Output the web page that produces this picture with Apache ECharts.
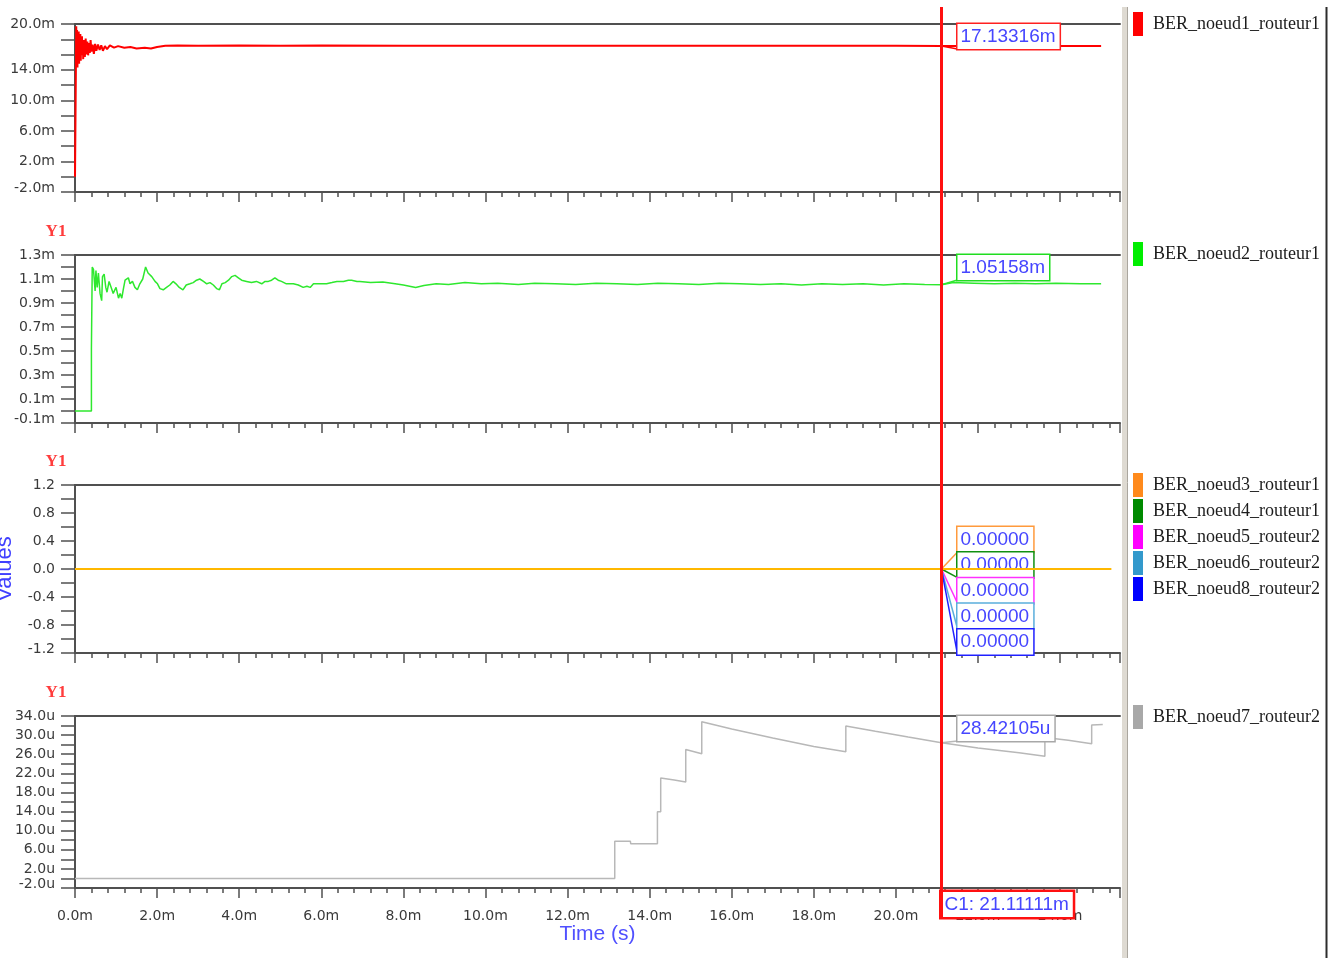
<!DOCTYPE html>
<html>
<head>
<meta charset="utf-8">
<title>BER noeuds / routeurs</title>
<script src="https://cdn.jsdelivr.net/npm/echarts@6/dist/echarts.min.js"></script>
<style>
html,body{margin:0;padding:0;background:#fff;}
#main{width:1334px;height:958px;}
</style>
</head>
<body>
<div id="main"></div>
<script>
// temps en ms (labels "2.0m")
var tMax = 25.46;
var cursorT = 21.11111;

// BER_noeud1_routeur1 (m)
var ber1 = [[0,0],[0.02,0],[0.03,19.7],[0.04,15.0],[0.05,19.2],[0.06,14.3],[0.07,18.5],[0.08,15.6],[0.09,19.0],[0.10,14.8],
  [0.11,18.1],[0.12,16.0],[0.13,18.7],[0.14,15.2],[0.15,17.8],[0.16,15.9],[0.17,18.4],[0.18,16.2],[0.19,17.6],[0.20,15.4],
  [0.21,17.9],[0.22,16.3],[0.23,17.4],[0.24,15.7],[0.26,18.1],[0.28,16.0],[0.30,17.7],[0.32,15.9],[0.34,17.5],[0.36,16.2],
  [0.38,17.9],[0.40,16.4],[0.43,17.3],[0.46,16.1],[0.49,17.4],[0.52,16.5],[0.56,17.3],[0.60,16.6],[0.64,17.2],[0.68,16.5],
  [0.73,17.1],[0.78,16.7],[0.85,17.2],[0.95,16.9],[1.05,17.1],[1.2,16.9],[1.35,17.0],[1.5,16.8],[1.7,16.9],[1.85,16.8],
  [2.0,17.0],[2.2,17.15],[2.5,17.2],[3,17.15],[4,17.2],[5,17.15],[6,17.2],[8,17.15],[10,17.15],[12,17.15],[14,17.15],
  [16,17.15],[18,17.15],[20,17.14],[21.11,17.133],[22,17.12],[23,17.12],[24,17.12],[25.0,17.12]];

// BER_noeud2_routeur1 (m)
var ber2 = [[0,0],[0.40,0],[0.40,0.52],[0.42,0.52],[0.42,1.20],[0.45,1.18],[0.49,1.00],[0.51,1.17],[0.54,1.03],[0.57,1.15],
  [0.61,0.98],[0.65,0.92],[0.67,1.12],[0.71,1.14],[0.75,1.03],[0.78,0.99],[0.83,1.08],[0.89,1.02],[0.93,0.98],[1.00,1.03],
  [1.06,0.94],[1.10,0.98],[1.14,0.94],[1.18,1.02],[1.22,1.09],[1.26,1.08],[1.30,1.11],[1.34,1.06],[1.40,1.08],[1.46,1.03],
  [1.52,1.01],[1.58,1.06],[1.65,1.10],[1.72,1.20],[1.78,1.15],[1.87,1.12],[1.95,1.08],[2.01,1.06],[2.07,1.02],[2.15,1.01],
  [2.23,1.03],[2.31,1.05],[2.39,1.08],[2.46,1.06],[2.54,1.03],[2.63,1.01],[2.71,1.05],[2.80,1.06],[2.88,1.07],[2.96,1.09],
  [3.04,1.10],[3.13,1.08],[3.21,1.06],[3.29,1.07],[3.37,1.05],[3.45,1.02],[3.52,1.01],[3.58,1.06],[3.66,1.07],[3.74,1.09],
  [3.82,1.12],[3.90,1.13],[3.98,1.11],[4.06,1.09],[4.18,1.08],[4.30,1.07],[4.42,1.08],[4.55,1.06],[4.63,1.08],[4.71,1.08],
  [4.79,1.09],[4.87,1.11],[4.95,1.09],[5.03,1.08],[5.15,1.06],[5.32,1.06],[5.44,1.05],[5.56,1.03],[5.65,1.04],[5.73,1.03],
  [5.81,1.06],[5.97,1.06],[6.13,1.06],[6.26,1.07],[6.38,1.08],[6.54,1.08],[6.66,1.09],[6.74,1.09],[6.87,1.08],[6.94,1.08],
  [7.2,1.07],[7.5,1.075],[7.8,1.06],[8.0,1.05],[8.3,1.03],[8.5,1.045],[8.8,1.06],[9.1,1.055],[9.5,1.07],[9.9,1.06],
  [10.3,1.065],[10.8,1.055],[11.2,1.065],[11.7,1.06],[12.2,1.055],[12.7,1.065],[13.2,1.06],[13.7,1.055],[14.2,1.065],
  [14.7,1.06],[15.2,1.055],[15.7,1.065],[16.2,1.06],[16.7,1.055],[17.2,1.06],[17.7,1.05],[18.2,1.06],[18.7,1.055],
  [19.2,1.06],[19.7,1.05],[20.2,1.06],[20.7,1.055],[21.11,1.052],[21.4,1.07],[21.9,1.065],[22.4,1.06],[22.9,1.065],
  [23.4,1.06],[23.9,1.065],[24.5,1.06],[25.0,1.06]];

// BER_noeud3/4/5/6/8 : nuls
var ber3 = [[0,0],[25.25,0]];
var ber4 = [[0,0],[25.0,0]];
var ber5 = [[0,0],[25.0,0]];
var ber6 = [[0,0],[25.0,0]];
var ber8 = [[0,0],[25.0,0]];

// BER_noeud7_routeur2 (u)
var ber7 = [[0,0],[13.15,0],[13.15,7.8],[13.53,7.8],[13.54,7.25],[14.19,7.25],[14.19,13.95],[14.27,13.95],[14.27,21.0],
  [14.6,20.6],[14.88,20.2],[14.88,27.0],[15.27,26.1],[15.27,32.8],[16.0,31.3],[17.0,29.4],[18.0,27.6],[18.78,26.5],
  [18.78,31.9],[19.5,30.8],[20.3,29.6],[21.11,28.42],[22.0,27.3],[23.0,26.3],[23.63,25.6],[23.63,29.5],[24.2,28.9],
  [24.77,28.2],[24.77,32.1],[25.04,32.2]];

var seriesNames = ['BER_noeud1_routeur1','BER_noeud2_routeur1','BER_noeud3_routeur1','BER_noeud4_routeur1',
  'BER_noeud5_routeur2','BER_noeud6_routeur2','BER_noeud8_routeur2','BER_noeud7_routeur2'];
var cursorVals = [17.13316, 1.05158, 0, 0, 0, 0, 0, 28.42105];
var cursorText = ['17.13316m','1.05158m','0.00000','0.00000','0.00000','0.00000','0.00000','28.42105u'];

var yLabels1 = [20, 14, 10, 6, 2, -2];
var yLabels2 = [1.3, 1.1, 0.9, 0.7, 0.5, 0.3, 0.1, -0.1];
var yLabels3 = [1.2, 0.8, 0.4, 0, -0.4, -0.8, -1.2];
var yLabels4 = [34, 30, 26, 22, 18, 14, 10, 6, 2, -2];

var legendColors = ['#ff0000','#00ee00','#ff8a1c','#008a00','#ff00ff','#3399cc','#0000ff','#a8a8a8'];
var lineColors   = ['#ff0000','#2ee82e','#ffb800','#008a00','#ff00ff','#3399cc','#0000ff','#b8b8b8'];
var boxColors    = ['#ff2020','#20dd20','#ff9a3c','#109010','#ff30ff','#5aaedc','#2020ff','#a8a8a8'];

var gridTop = [24, 255, 485, 716];
var gridH = [168, 168, 168, 172];
var axisCol = '#505050';
var tickFont = 'DejaVu Sans';

function yFmt(list, unit, min) {
  return function (v) {
    var r = Math.round(v * 100) / 100;
    if (r === 0) r = 0;
    for (var i = 0; i < list.length; i++) {
      if (Math.abs(r - list[i]) < 1e-6) {
        var s = r.toFixed(1) + unit;
        return Math.abs(r - min) < 1e-6 ? '{lo|' + s + '}' : s;
      }
    }
    return '';
  };
}

var yCfg = [
  {min: -2, max: 20, interval: 2, fmt: yFmt(yLabels1, 'm', -2)},
  {min: -0.1, max: 1.3, interval: 0.1, fmt: yFmt(yLabels2, 'm', -0.1)},
  {min: -1.2, max: 1.2, interval: 0.2, fmt: yFmt(yLabels3, '', -1.2)},
  {min: -2, max: 34, interval: 2, fmt: yFmt(yLabels4, 'u', -2)}
];

var grids = [], xAxes = [], yAxes = [];
for (var i = 0; i < 4; i++) {
  grids.push({left: 75, top: gridTop[i], width: 1045, height: gridH[i], outerBoundsMode: 'none', containLabel: false});
  xAxes.push({
    type: 'value', gridIndex: i, position: 'bottom', min: 0, max: tMax, interval: 2,
    axisLine: {show: true, onZero: false, lineStyle: {color: axisCol, width: 2}},
    axisTick: {show: true, length: 10, lineStyle: {color: axisCol, width: 1.5}},
    minorTick: {show: true, splitNumber: 5, length: 5, lineStyle: {color: axisCol, width: 1.5}},
    splitLine: {show: false},
    axisLabel: {
      show: i == 3, margin: 21, showMaxLabel: false, fontFamily: tickFont, fontSize: 14, color: '#3a3a3a',
      formatter: function (v) { return v.toFixed(1) + 'm'; }
    },
    name: i == 3 ? 'Time (s)' : '', nameLocation: 'middle', nameGap: 35,
    nameTextStyle: {color: '#5050ff', fontSize: 21, fontFamily: 'Liberation Sans'}
  });
  yAxes.push({
    type: 'value', gridIndex: i, min: yCfg[i].min, max: yCfg[i].max, interval: yCfg[i].interval,
    axisLine: {show: true, onZero: false, lineStyle: {color: axisCol, width: 2}},
    axisTick: {show: true, length: 14, lineStyle: {color: axisCol, width: 1.5}},
    splitLine: {show: false},
    axisLabel: {
      margin: 20, fontFamily: tickFont, fontSize: 14, color: '#3a3a3a', formatter: yCfg[i].fmt,
      rich: {lo: {padding: [0, 0, 8, 0]}}
    },
    name: i == 2 ? 'Values' : '', nameLocation: 'middle', nameGap: 59,
    nameTextStyle: {color: '#4040ff', fontSize: 22, fontFamily: 'Liberation Sans'}
  });
}
// bord haut de chaque panneau
for (var i = 0; i < 4; i++) {
  xAxes.push({
    type: 'value', gridIndex: i, position: 'top', min: 0, max: tMax,
    axisLine: {show: true, onZero: false, lineStyle: {color: axisCol, width: 2}},
    axisTick: {show: false}, axisLabel: {show: false}, splitLine: {show: false}
  });
}

var seriesData = [ber1, ber2, ber4, ber5, ber6, ber8, ber3, ber7];
var seriesIdx = [0, 1, 3, 4, 5, 6, 2, 7];
var seriesGrid = [0, 1, 2, 2, 2, 2, 2, 3];
var series = [];
for (var k = 0; k < seriesData.length; k++) {
  var n = seriesIdx[k];
  var w = 1.5;
  if (n == 0 || n == 2) w = 2;
  if (n >= 3 && n <= 6) w = 1;
  series.push({
    type: 'line', name: seriesNames[n], xAxisIndex: seriesGrid[k], yAxisIndex: seriesGrid[k],
    data: seriesData[k], showSymbol: false, symbol: 'none', animation: false,
    itemStyle: {color: legendColors[n]},
    lineStyle: {color: lineColors[n], width: w}
  });
}

function legendFor(idx, topY) {
  var data = [];
  for (var i = 0; i < idx.length; i++) {
    data.push({name: seriesNames[idx[i]], itemStyle: {color: legendColors[idx[i]]}});
  }
  return {
    data: data, orient: 'vertical', left: 1133, top: topY, padding: 0, icon: 'rect',
    itemWidth: 10, itemHeight: 24, itemGap: 2, selectedMode: false,
    itemStyle: {borderWidth: 0},
    textStyle: {fontFamily: 'Liberation Serif', fontSize: 18, color: '#1c1c1c', padding: [0, 0, 0, 5]}
  };
}

var chart = echarts.init(document.getElementById('main'));
chart.setOption({
  backgroundColor: '#fff',
  animation: false,
  grid: grids,
  xAxis: xAxes,
  yAxis: yAxes,
  legend: [legendFor([0], 12), legendFor([1], 242), legendFor([2, 3, 4, 5, 6], 473), legendFor([7], 705)],
  series: series
});

// curseur C1, étiquettes, cadre de légende
var G = echarts.graphic;
var zr = chart.getZr();
var lblFont = '19px "Liberation Sans", Arial, sans-serif';
var blue = '#4646ff';
function px(g, t, v) {
  return chart.convertToPixel({xAxisIndex: g, yAxisIndex: g}, [t, v]);
}
function box(x, y, text, border, z, bw) {
  zr.add(new G.Text({
    x: x, y: y, z: z,
    style: {text: text, font: lblFont, fill: blue, backgroundColor: '#fff', borderColor: border,
      borderWidth: bw || 1.5, padding: [3, 4, 3, 3], align: 'left', verticalAlign: 'top'}
  }));
}
function seg(x1, y1, x2, y2, color, z, lw) {
  zr.add(new G.Line({z: z, shape: {x1: x1, y1: y1, x2: x2, y2: y2}, style: {stroke: color, lineWidth: lw || 1.5}}));
}

var cx = px(0, cursorT, 0)[0];
var bx = cx + 16;
var single = [[0, 0], [1, 1], [7, 3]];
for (var i = 0; i < single.length; i++) {
  var n = single[i][0], g = single[i][1];
  var p = px(g, cursorT, cursorVals[n]);
  seg(p[0], p[1], bx, gridTop[g] + 25, lineColors[n], 3);
  box(bx, gridTop[g], cursorText[n], boxColors[n], 4);
}
var stack = [2, 3, 4, 5, 6];
var bottom3 = px(2, 0, -1.2)[1];
var p3 = px(2, cursorT, 0);
for (var j = 0; j < stack.length; j++) {
  var n = stack[j];
  var boxTop = bottom3 - 126 + j * 25.6;
  seg(p3[0], p3[1], bx, boxTop + 25, boxColors[n], 1);
  box(bx, boxTop, cursorText[n], boxColors[n], 1);
}
box(cx, 892, 'C1: ' + cursorT.toFixed(5) + 'm', '#ff1010', 6, 2.5);
seg(cx, 7, cx, 918, '#ff1010', 10, 3);

// "Y1" au-dessus des axes
for (var g = 1; g < 4; g++) {
  zr.add(new G.Text({x: 56, y: gridTop[g] - 23, z: 5,
    style: {text: 'Y1', font: 'bold 17px "Liberation Serif", serif', fill: '#ff3c3c', align: 'center', verticalAlign: 'middle'}}));
}

zr.add(new G.Rect({z: 5, shape: {x: 1122, y: 7, width: 5, height: 951}, style: {fill: '#dedad2'}}));
seg(1127.5, 7, 1127.5, 958, '#aaa69e', 5, 1);
seg(1326.5, 7, 1326.5, 958, '#2c2c2c', 5, 2);
</script>
</body>
</html>
